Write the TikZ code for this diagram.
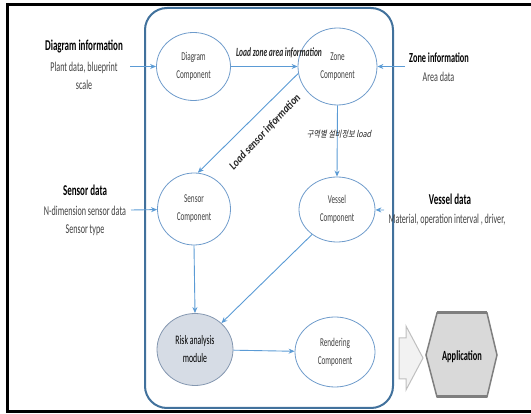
\documentclass[tikz,border=0pt]{standalone}
\usepackage{fontspec}
\setmainfont{Carlito}[FakeStretch=0.6]
\newfontfamily\slantlabel{Carlito}[FakeStretch=0.85]
\newfontfamily\kofont{Noto Sans CJK KR}[FakeSlant=0.2,FakeStretch=0.8]
\usetikzlibrary{shapes.geometric,arrows.meta}
\definecolor{boxblue}{HTML}{41719C}
\definecolor{lineblue}{HTML}{5B9BD5}
\definecolor{ringblue}{HTML}{6E9BCB}
\definecolor{riskfill}{HTML}{D6DCE5}
\definecolor{riskedge}{HTML}{8497B0}
\definecolor{textgrey}{HTML}{404040}
\definecolor{appfill}{HTML}{D9D9D9}
\definecolor{appedge}{HTML}{7F7F7F}
\definecolor{blockfill}{HTML}{F2F2F2}
\definecolor{blockedge}{HTML}{BFBFBF}

\begin{document}
\begin{tikzpicture}[x=1pt,y=-1pt,
  comp/.style={ellipse, draw=ringblue, line width=0.8pt, inner sep=0pt, align=center,
    text=textgrey, font=\fontsize{12}{18}\selectfont},
  flow/.style={draw=lineblue, line width=0.9pt, -{Stealth[length=6pt,width=5pt]}},
  head/.style={anchor=base, font=\bfseries\fontsize{15}{15}\selectfont},
  body/.style={anchor=base, text=textgrey, font=\fontsize{13.5}{13.5}\selectfont},
  tag/.style={font=\bfseries\itshape\fontsize{12.5}{12.5}\selectfont, text=black!85}
]
\useasboundingbox (0,0) rectangle (531,414);

% outer frame, open on the right
\draw[line width=3pt] (540,4.5) -- (7,4.5) -- (7,411.5) -- (540,411.5);

% system container
\draw[boxblue, line width=2pt, rounded corners=22pt] (145,8) rectangle (393,408);

% components
\node[comp, minimum width=74pt, minimum height=68pt] (dcomp) at (193.5,66.5) {Diagram\\Component};
\node[comp, minimum width=79pt, minimum height=77pt] (zcomp) at (337.5,66.5) {Zone\\Component};
\node[comp, minimum width=73pt, minimum height=72pt] (scomp) at (194,209) {Sensor\\Component};
\node[comp, minimum width=76pt, minimum height=65pt] (vcomp) at (337,209.5) {Vessel\\Component};
\node[comp, fill=riskfill, draw=riskedge, minimum width=76pt, minimum height=72pt,
  text=black, font=\fontsize{13}{18}\selectfont] (rcomp) at (195,349.5) {Risk analysis\\module};
\node[comp, minimum width=80pt, minimum height=70pt] (rend) at (335,352) {Rendering\\Component};

% external inputs
\node[head] (dinfo) at (84,51) {Diagram information};
\node[body] (dinfo1) at (84,72) {Plant data, blueprint};
\node[body] (dinfo2) at (84,90) {scale};
\node[head] (sdata) at (85,196) {Sensor data};
\node[body] (sdata1) at (85,216) {N-dimension sensor data};
\node[body] (sdata2) at (85,234) {Sensor type};
\node[head, font=\bfseries\fontsize{13.8}{13.8}\selectfont] (zinfo) at (439,63) {Zone information};
\node[body] (zinfo1) at (438.5,82) {Area data};
\node[head] (vdata) at (450,205) {Vessel data};
\node[body] (vdata1) at (447,224) {Material, operation interval , driver,};

% input arrow tails
\coordinate (din) at (130,66.5);
\coordinate (zin) at (405,66.5);
\coordinate (sin) at (131,210);
\coordinate (vin) at (384,210);

% flows
\draw[flow] (din) -- (dcomp);
\draw[flow] (dcomp) -- (zcomp);
\draw[flow] (zin) -- (zcomp);
\draw[flow] (zcomp.190) -- (scomp.84);
\draw[flow] (zcomp.south) -- (vcomp.north);
\draw[flow] (sin) -- (scomp);
\draw[flow] (vin) -- (vcomp);
\draw[flow] (scomp.south) -- (rcomp.north);
\draw[flow] (vcomp.225) -- (rcomp.45);
\draw[flow] (rcomp) -- (rend);

% flow labels
\node[tag, anchor=base] (lzone) at (279,57) {Load zone area information};
\node[tag, font=\slantlabel\bfseries\itshape\fontsize{11.5}{11.5}\selectfont, rotate=47] (lsens) at (265,132) {Load sensor information};
\node[anchor=base, font=\kofont\fontsize{9}{9}\selectfont, text=black!85] (lvess) at (339,138) {구역별 설비정보 load};

% output block arrow
\draw[blockedge, fill=blockfill, line width=1pt] (399,338) -- (406,338) -- (406,326) -- (423,358)
  -- (406,390) -- (406,379) -- (399,379) -- cycle;

% application hexagon
\draw[appedge, fill=appfill, line width=1.5pt] (437,313) -- (487,313) -- (497,355) -- (487,397)
  -- (437,397) -- (426,355) -- cycle;
\draw[appedge, line width=3pt] (437,313) -- (487,313) (437,397) -- (487,397);
\node[font=\bfseries\fontsize{14}{14}\selectfont] (app) at (462,357) {Application};
\end{tikzpicture}
\end{document}
